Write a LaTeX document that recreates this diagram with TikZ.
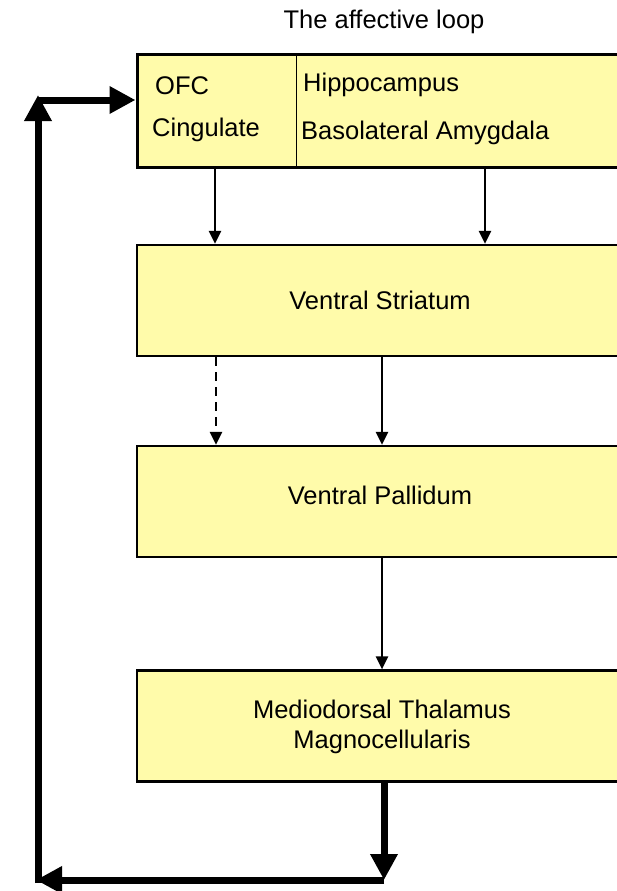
\documentclass[tikz,border=0pt]{standalone}
\usepackage{fontspec}
\setmainfont{Liberation Sans}
\usetikzlibrary{arrows.meta}
\definecolor{boxfill}{RGB}{255,251,170}
\begin{document}
\begin{tikzpicture}[x=1pt,y=-1pt,
  box/.style={draw=black,line width=2.2pt,fill=boxfill,minimum width=487pt,minimum height=111pt,inner sep=0pt,align=center},
  lbl/.style={font=\fontsize{25.5}{29.5}\selectfont,inner sep=0pt,align=center},
  thin arrow/.style={line width=2.4pt,-{Triangle[length=13pt,width=12pt]}},
  thick arrow/.style={line width=7pt,-{Triangle[length=26pt,width=26pt]}}]
\useasboundingbox (0,0) rectangle (617,891);
\clip (0,0) rectangle (617,891);
\fill[white] (0,0) rectangle (617,891);
% title
\node[lbl] (title) at (384,22) {The affective loop};
% top box
\node[box,line width=3pt,minimum height=112pt] (top) at (380.5,111) {};
\draw[line width=1pt] (296,55) -- (296,167);
\node[lbl,anchor=west] (ofc) at (155,86) {OFC};
\node[lbl,anchor=west] (cing) at (152,130) {Cingulate};
\node[lbl,anchor=west] (hip) at (303,85) {Hippocampus};
\node[lbl,anchor=west] (bla) at (301,133) {Basolateral Amygdala};
% other boxes
\node[box] (vs) at (380.5,300.5) {};
\node[lbl] (vst) at (380,300) {Ventral Striatum};
\node[box] (vp) at (380.5,501.5) {};
\node[lbl] (vpt) at (380,495) {Ventral Pallidum};
\node[box] (md) at (380.5,726) {};
\node[lbl] (mdt) at (382,727) {Mediodorsal Thalamus\\Magnocellularis};
% thin arrows
\draw[thin arrow] (top.south -| 215,0) -- (vs.north -| 215,0);
\draw[thin arrow] (top.south -| 485,0) -- (vs.north -| 485,0);
\draw[thin arrow,dash pattern=on 9pt off 6pt] (vs.south -| 216,0) -- (vp.north -| 216,0);
\draw[thin arrow] (vs.south -| 382,0) -- (vp.north -| 382,0);
\draw[thin arrow] (vp.south -| 382,0) -- (md.north -| 382,0);
% thick loop
\coordinate (c1) at (384,880);
\coordinate (c2) at (36,880);
\coordinate (c3) at (38,95);
\coordinate (c4) at (38,100);
\draw[thick arrow] (md.south -| c1) -- (c1);
\draw[thick arrow] (384,880) -- (c2);
\draw[thick arrow] (38,883) -- (c3);
\draw[thick arrow] (c4) -- (top.west |- c4);
\end{tikzpicture}
\end{document}
